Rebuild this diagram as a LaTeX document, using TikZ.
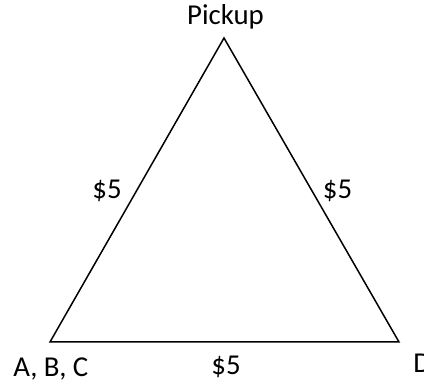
\documentclass[tikz,border=0pt]{standalone}
\usepackage{fontspec}
\setmainfont{Carlito}
\usepackage{tikz}
\usetikzlibrary{calc}

\begin{document}
\begin{tikzpicture}[x=0.5pt, y=-0.5pt, every node/.style={font=\fontsize{14.4}{17}\selectfont, inner sep=0pt}]
  % Fix the page size
  \useasboundingbox (0,0) rectangle (424,385);

  % Corners of the triangle
  \coordinate (Pickup) at (224, 38);
  \coordinate (ABC) at (50, 342);
  \coordinate (D) at (399, 342);

  % Draw the triangle
  \draw[line width=0.75pt, line join=miter] (ABC) -- (Pickup) -- (D) -- cycle;

  % Corner labels
  \node[anchor=base] (pickuplabel) at (225.5, 25) {Pickup};
  \node[anchor=base west] (abclabel) at (13, 377) {A, B, C};
  \node[anchor=base west] (dlabel) at (413, 373) {D};

  % Edge costs
  \node[anchor=base] (leftcost) at (107, 199) {\$5};
  \node[anchor=base] (rightcost) at (337.5, 199) {\$5};
  \node[anchor=base] (bottomcost) at (226, 375) {\$5};

\end{tikzpicture}
\end{document}
